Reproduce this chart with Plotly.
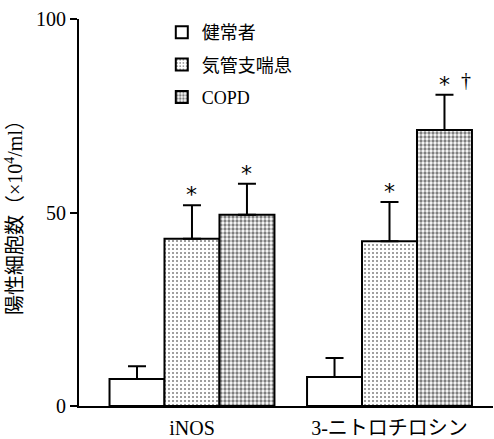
import plotly.graph_objects as go

# Categories and group names
categories = ["iNOS", "3-ニトロチロシン"]
groups = ["健常者", "気管支喘息", "COPD"]

# Mean positive cell counts (×10^4/ml) and upper error (SE)
healthy_mean = [7.0, 7.5]
healthy_err = [3.3, 4.9]
asthma_mean = [43.2, 42.6]
asthma_err = [8.7, 10.1]
copd_mean = [49.4, 71.3]
copd_err = [8.0, 9.1]

# Significance marks per group (above error bars)
asthma_marks = ["*", "*"]
copd_marks = ["*", "*"]
copd_dagger = ["", "†"]

y_ticks = [0, 50, 100]

SERIF = "Liberation Serif, DejaVu Serif, serif"
MIXED = "Liberation Serif, Noto Sans CJK JP, serif"

patterns = [
    dict(shape="", fgcolor="black", bgcolor="white"),
    dict(shape=".", fgcolor="black", bgcolor="white", size=4, solidity=0.2),
    dict(shape=".", fgcolor="black", bgcolor="white", size=4, solidity=0.52),
]
means = [healthy_mean, asthma_mean, copd_mean]
errs = [healthy_err, asthma_err, copd_err]

fig = go.Figure()
for i, name in enumerate(groups):
    fig.add_trace(go.Bar(
        name=name,
        x=categories,
        y=means[i],
        legendgroup=name,
        marker=dict(color="white", line=dict(color="black", width=2), pattern=patterns[i]),
        error_y=dict(type="data", array=errs[i], arrayminus=[0] * len(categories),
                     symmetric=False, color="black", thickness=2, width=9),
    ))

bargap = 0.165
bar_w = (1 - bargap) / 3
offsets = [-bar_w, 0, bar_w]

# Asterisks / daggers above the error bars
for k in range(len(categories)):
    for gi, (m, e, marks) in enumerate([(asthma_mean, asthma_err, asthma_marks),
                                        (copd_mean, copd_err, copd_marks)]):
        xpos = k + offsets[gi + 1]
        fig.add_annotation(x=xpos, y=m[k] + e[k], text=marks[k], showarrow=False,
                           yanchor="bottom", yshift=-4,
                           font=dict(family="DejaVu Sans, sans-serif", size=22, color="black"))
    if copd_dagger[k]:
        fig.add_annotation(x=k + offsets[2], y=copd_mean[k] + copd_err[k], text=copd_dagger[k],
                           showarrow=False, yanchor="bottom", yshift=2, xshift=22,
                           font=dict(family=SERIF, size=20, color="black"))

fig.update_layout(
    width=494, height=439,
    margin=dict(l=79, r=1, t=19, b=33, autoexpand=False),
    paper_bgcolor="white", plot_bgcolor="white",
    barmode="group", bargap=bargap, bargroupgap=0,
    showlegend=True,
    legend=dict(x=0.2, y=1.013, xanchor="left", yanchor="top",
                bgcolor="rgba(0,0,0,0)", tracegroupgap=6,
                font=dict(family=MIXED, size=18, color="black"),
                traceorder="grouped"),
    xaxis=dict(range=[-0.572, 1.524], showline=True, linecolor="black", linewidth=2,
               ticks="", showgrid=False, ticklabelstandoff=3, automargin=False,
               tickfont=dict(family=MIXED, size=20, color="black")),
    yaxis=dict(range=[0, 100], tickvals=y_ticks, ticks="outside", ticklen=7, tickwidth=2,
               tickcolor="black", showline=True, linecolor="black", linewidth=2,
               showgrid=False, zeroline=False, automargin=False,
               tickfont=dict(family=SERIF, size=20, color="black"),
               title=dict(text="陽性細胞数（×10<sup>4</sup>/ml）",
                          font=dict(family=MIXED, size=20, color="black"), standoff=8)),
)

fig.write_html("out.html")
